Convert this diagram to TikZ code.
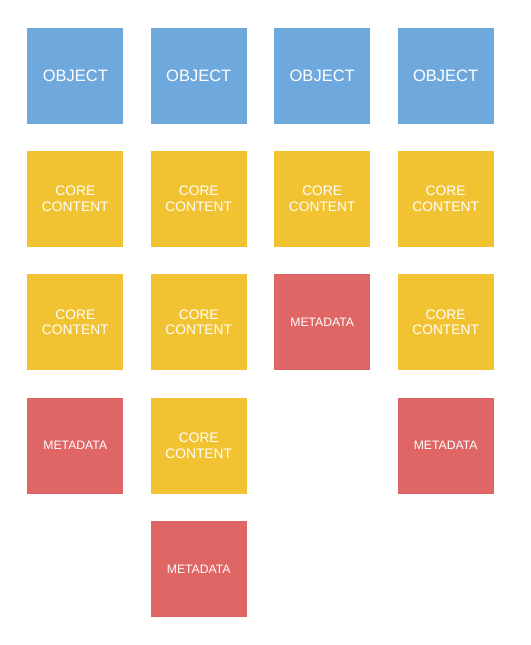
\documentclass[tikz,border=0pt]{standalone}
\usepackage{fontspec}
\setmainfont{Liberation Sans}
\definecolor{objblue}{HTML}{6FA8DC}
\definecolor{coreyellow}{HTML}{F1C232}
\definecolor{metared}{HTML}{E06666}
\begin{document}
\begin{tikzpicture}[x=1pt,y=-1pt,
  tile/.style={minimum width=96pt,minimum height=96pt,inner sep=0pt,text=white,align=center,draw=none},
  objtile/.style={tile,fill=objblue,font=\fontsize{16.5}{18}\selectfont},
  coretile/.style={tile,fill=coreyellow,font=\fontsize{13.8}{15.2}\selectfont},
  metatile/.style={tile,fill=metared,font=\fontsize{12.2}{14}\selectfont}]
\useasboundingbox (0,0) rectangle (530,645);
% row 1
\node[objtile] (o1) at (75.3,75.8) {OBJECT};
\node[objtile] (o2) at (198.75,75.8) {OBJECT};
\node[objtile] (o3) at (322.2,75.8) {OBJECT};
\node[objtile] (o4) at (445.65,75.8) {OBJECT};
% row 2
\node[coretile] (c21) at (75.3,198.75) {CORE\\CONTENT};
\node[coretile] (c22) at (198.75,198.75) {CORE\\CONTENT};
\node[coretile] (c23) at (322.2,198.75) {CORE\\CONTENT};
\node[coretile] (c24) at (445.65,198.75) {CORE\\CONTENT};
% row 3
\node[coretile] (c31) at (75.3,322.2) {CORE\\CONTENT};
\node[coretile] (c32) at (198.75,322.2) {CORE\\CONTENT};
\node[metatile] (m33) at (322.2,322.2) {METADATA};
\node[coretile] (c34) at (445.65,322.2) {CORE\\CONTENT};
% row 4
\node[metatile] (m41) at (75.3,445.65) {METADATA};
\node[coretile] (c42) at (198.75,445.65) {CORE\\CONTENT};
\node[metatile] (m44) at (445.65,445.65) {METADATA};
% row 5
\node[metatile] (m52) at (198.75,569.1) {METADATA};
\end{tikzpicture}
\end{document}
